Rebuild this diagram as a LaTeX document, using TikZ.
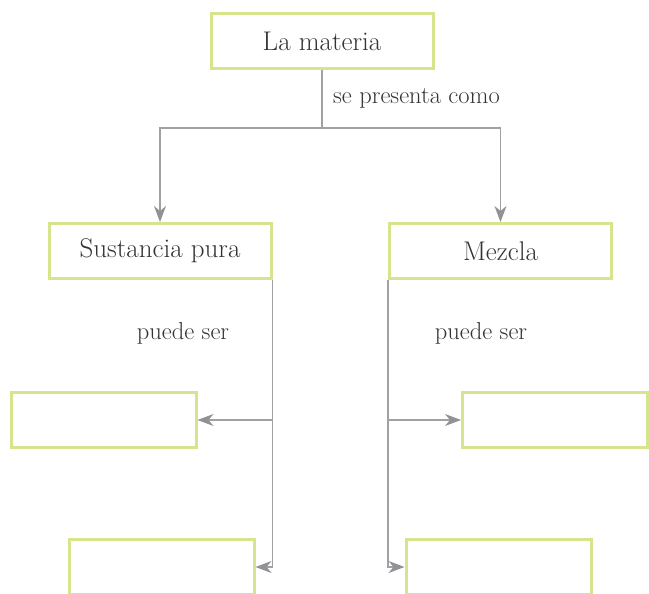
\documentclass[tikz,border=0pt]{standalone}
\usetikzlibrary{arrows.meta}
\definecolor{boxgreen}{RGB}{214,229,140}
\definecolor{linegray}{RGB}{160,160,165}
\definecolor{tipgray}{RGB}{145,145,150}
\tikzset{
  cbox/.style={draw=boxgreen, line width=3pt, minimum width=222pt, minimum height=55pt, inner sep=0pt, font=\fontsize{27}{31}\selectfont, text=black!80},
  sbox/.style={cbox, minimum width=185pt},
  conn/.style={draw=linegray, line width=1.4pt},
  arr/.style={conn, -{Stealth[length=16pt,width=12pt,inset=5pt,fill=tipgray,color=tipgray]}},
  lbl/.style={font=\fontsize{24.5}{28}\selectfont, text=black!80, inner sep=0pt}
}
\begin{document}
\begin{tikzpicture}[x=1pt,y=-1pt]
\useasboundingbox (0,0) rectangle (649,594);
\node[cbox] (top) at (322,41) {La materia};
\node[cbox] (sp) at (160,251) {Sustancia pura};
\node[cbox] (mz) at (500.5,251) {Mezcla};
\node[sbox] (b1) at (103.5,420) {};
\node[sbox] (b2) at (161.5,567) {};
\node[sbox] (b3) at (555,420) {};
\node[sbox] (b4) at (498.5,567) {};
\coordinate (split) at (322,128);
\coordinate (l0) at (sp.south east |- b1.east);
\coordinate (r0) at (mz.south west |- b3.west);
\draw[conn] (top.south) -- (split);
\draw[arr] (split) -| (sp.north);
\draw[arr] (split) -| (mz.north);
\draw[arr] (sp.south east) |- (b2.east);
\draw[arr] (l0) -- (b1.east);
\draw[arr] (mz.south west) |- (b4.west);
\draw[arr] (r0) -- (b3.west);
\node[lbl, anchor=west] (l-se) at (333,98) {se presenta como};
\node[lbl] (l-p1) at (183,333) {puede ser};
\node[lbl] (l-p2) at (481,333) {puede ser};
\end{tikzpicture}
\end{document}
